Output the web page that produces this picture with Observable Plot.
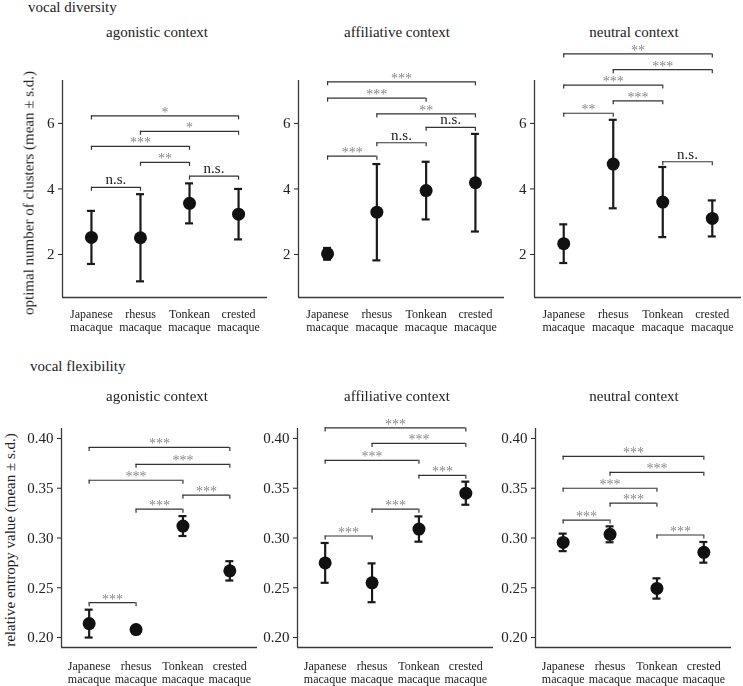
<!DOCTYPE html>
<html><head><meta charset="utf-8">
<script src="https://cdn.jsdelivr.net/npm/d3@7"></script>
<script src="https://cdn.jsdelivr.net/npm/@observablehq/plot@0.6"></script>
<style>
body{margin:0;background:#fff;}
#root{position:relative;width:743px;height:686px;font-family:"Liberation Serif","Times New Roman",serif;color:#222;overflow:hidden;background:#fff;}
#root svg, #root svg text{font-family:"Liberation Serif","Times New Roman",serif !important;}
#root svg{will-change:transform;}
.t{position:absolute;font-size:15px;line-height:1;white-space:nowrap;}
.c{transform:translateX(-50%);}
.yl{position:absolute;font-size:15px;line-height:1;white-space:nowrap;transform:translate(-50%,-50%) rotate(-90deg);}
.p{position:absolute;}
</style></head><body><div id="root"></div>
<script>
// categories
const species = ["Japanese macaque", "rhesus macaque", "Tonkean macaque", "crested macaque"];

// vocal diversity: optimal number of clusters (mean, s.d.)
const divAgoMean = [2.52, 2.51, 3.56, 3.23];
const divAgoSd   = [0.81, 1.33, 0.61, 0.77];
const divAffMean = [2.02, 3.29, 3.95, 4.19];
const divAffSd   = [0.18, 1.47, 0.88, 1.49];
const divNeuMean = [2.33, 4.76, 3.60, 3.10];
const divNeuSd   = [0.59, 1.35, 1.07, 0.55];

// vocal flexibility: relative entropy value (mean, s.d.)
const flxAgoMean = [0.214, 0.208, 0.312, 0.267];
const flxAgoSd   = [0.014, 0.0008, 0.010, 0.0097];
const flxAffMean = [0.275, 0.255, 0.309, 0.345];
const flxAffSd   = [0.020, 0.0195, 0.0127, 0.0116];
const flxNeuMean = [0.2956, 0.3037, 0.2493, 0.2856];
const flxNeuSd   = [0.0088, 0.0080, 0.0102, 0.0104];

// significance brackets: [from, to, level, label]
const divAgoBrackets = [[0,3,6.23,"*"],[1,3,5.76,"*"],[0,2,5.30,"***"],[1,2,4.81,"**"],[0,1,4.05,"n.s."],[2,3,4.39,"n.s."]];
const divAffBrackets = [[0,3,7.27,"***"],[0,2,6.77,"***"],[1,3,6.29,"**"],[2,3,5.88,"n.s."],[1,2,5.41,"n.s."],[0,1,5.00,"***"]];
const divNeuBrackets = [[0,3,8.12,"**"],[1,3,7.64,"***"],[0,2,7.17,"***"],[1,2,6.69,"***"],[0,1,6.31,"**"],[2,3,4.83,"n.s."]];
const flxAgoBrackets = [[0,3,0.391,"***"],[1,3,0.374,"***"],[0,2,0.358,"***"],[2,3,0.343,"***"],[1,2,0.329,"***"],[0,1,0.235,"***"]];
const flxAffBrackets = [[0,3,0.4106,"***"],[1,3,0.395,"***"],[0,2,0.378,"***"],[2,3,0.363,"***"],[1,2,0.329,"***"],[0,1,0.302,"***"]];
const flxNeuBrackets = [[0,3,0.382,"***"],[1,3,0.366,"***"],[0,2,0.350,"***"],[1,2,0.335,"***"],[0,1,0.318,"***"],[2,3,0.303,"***"]];

// axis ticks
const divTicks = [2, 4, 6];
const flxTicks = [0.20, 0.25, 0.30, 0.35, 0.40];

const root = document.getElementById("root");
function addText(cls, txt, left, top) {
  const d = document.createElement("div");
  d.className = cls; d.textContent = txt;
  d.style.left = left + "px"; d.style.top = top + "px";
  root.appendChild(d);
}

const FONT = "Liberation Serif";
const pad = 0.59;
function panel(o) {
  const idx = species.map((_, i) => i);
  const rows = idx.map(i => ({i, mean: o.mean[i], sd: o.sd[i]}));
  const br = o.brackets.map(([a, b, y, label]) => ({a, b, y, label, mid: (a + b) / 2}));
  const ml = 40, mr = 2;
  const xDom = [-pad, species.length - 1 + pad];
  const chart = Plot.plot({
    width: ml + o.fw + mr,
    height: o.mt + o.fh + o.mb,
    marginLeft: ml, marginRight: mr, marginTop: o.mt, marginBottom: o.mb,
    x: {type: "linear", domain: xDom},
    y: {domain: o.yDomain},
    style: {background: "transparent", fontFamily: FONT, color: "#222", overflow: "visible"},
    marks: [
      Plot.ruleX([xDom[0]], {stroke: "#3a3a3a", strokeWidth: 1.3}),
      Plot.ruleY([o.yDomain[0]], {stroke: "#3a3a3a", strokeWidth: 1.3}),
      Plot.axisY({ticks: o.yTicks, tickSize: 4, tickPadding: 4, fontSize: 15, fontFamily: FONT, tickFormat: o.yFmt, label: null}),
      Plot.axisX({ticks: idx, tickSize: 0, tickPadding: o.xPad, fontSize: 12, fontFamily: FONT, lineHeight: 1.1,
        tickFormat: i => species[i].replace(" ", "\n"), label: null}),
      Plot.ruleY(br, {y: "y", x1: "a", x2: "b", stroke: "#333", strokeWidth: 1.2}),
      Plot.ruleX(br, {x: "a", y1: "y", y2: "y", insetBottom: -4, stroke: "#333", strokeWidth: 1.2}),
      Plot.ruleX(br, {x: "b", y1: "y", y2: "y", insetBottom: -4, stroke: "#333", strokeWidth: 1.2}),
      Plot.text(br.filter(d => d.label !== "n.s."), {x: "mid", y: "y", text: "label", fill: "#888",
        lineAnchor: "bottom", dy: 1, fontSize: 14, fontFamily: FONT}),
      Plot.text(br.filter(d => d.label === "n.s."), {x: "mid", y: "y", text: "label", fill: "#222",
        lineAnchor: "bottom", dy: -3, fontSize: 15, fontFamily: FONT}),
      Plot.ruleX(rows, {x: "i", y1: d => d.mean - d.sd, y2: d => d.mean + d.sd, stroke: "#1a1a1a", strokeWidth: 2.2}),
      Plot.ruleY(rows, {y: d => d.mean + d.sd, x1: "i", x2: "i", insetLeft: -4, insetRight: -4, stroke: "#1a1a1a", strokeWidth: 2.2}),
      Plot.ruleY(rows, {y: d => d.mean - d.sd, x1: "i", x2: "i", insetLeft: -4, insetRight: -4, stroke: "#1a1a1a", strokeWidth: 2.2}),
      Plot.dot(rows, {x: "i", y: "mean", r: 6.5, fill: "#111"})
    ]
  });
  chart.classList.add("p");
  chart.style.left = (o.fx - ml) + "px";
  chart.style.top = (o.fy - o.mt) + "px";
  root.appendChild(chart);
}

const topY = {yDomain: [0.687, 7.31], yTicks: divTicks, yFmt: d3.format("d"), fy: 80, fh: 217, mt: 40, mb: 40, xPad: 11};
const botY = {yDomain: [0.19, 0.41], yTicks: flxTicks, yFmt: d3.format(".2f"), fy: 428, fh: 219, mt: 28, mb: 38, xPad: 13};

panel({...topY, mean: divAgoMean, sd: divAgoSd, brackets: divAgoBrackets, fx: 62, fw: 205});
panel({...topY, mean: divAffMean, sd: divAffSd, brackets: divAffBrackets, fx: 298, fw: 206});
panel({...topY, mean: divNeuMean, sd: divNeuSd, brackets: divNeuBrackets, fx: 534, fw: 207});
panel({...botY, mean: flxAgoMean, sd: flxAgoSd, brackets: flxAgoBrackets, fx: 61, fw: 196});
panel({...botY, mean: flxAffMean, sd: flxAffSd, brackets: flxAffBrackets, fx: 297, fw: 196});
panel({...botY, mean: flxNeuMean, sd: flxNeuSd, brackets: flxNeuBrackets, fx: 535, fw: 196});

addText("t", "vocal diversity", 28, 0);
addText("t", "vocal flexibility", 30, 359);
addText("t c", "agonistic context", 157, 25);
addText("t c", "affiliative context", 397, 25);
addText("t c", "neutral context", 634, 25);
addText("t c", "agonistic context", 157, 389);
addText("t c", "affiliative context", 397, 389);
addText("t c", "neutral context", 634, 389);
addText("yl", "optimal number of clusters (mean \u00b1 s.d.)", 29, 193);
addText("yl", "relative entropy value (mean \u00b1 s.d.)", 10, 540);
</script>
</body></html>
